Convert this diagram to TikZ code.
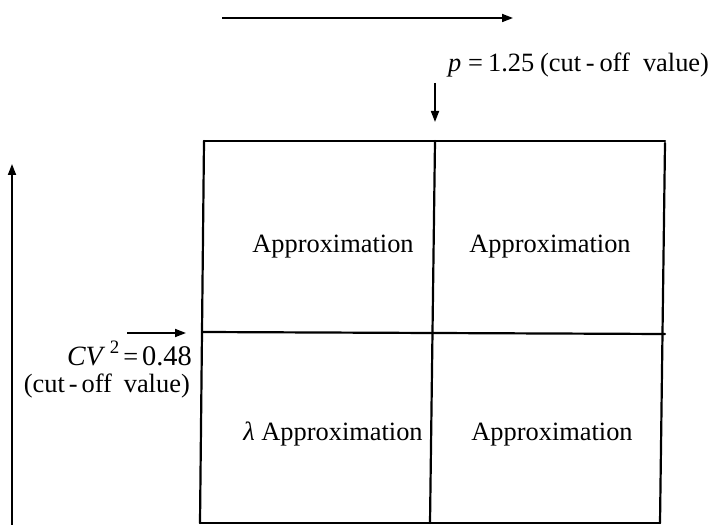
\documentclass[tikz,border=0pt]{standalone}
\usepackage{fontspec}
\setmainfont{Liberation Serif}
\usetikzlibrary{arrows.meta}
\begin{document}
\begin{tikzpicture}[x=1bp,y=-1bp,
  line/.style={line width=2.2bp, line cap=round},
  arr/.style={line width=1.7bp, -{Triangle[length=11bp,width=8bp]}},
  lbl/.style={inner sep=0pt, font=\fontsize{26.5}{30}\selectfont},
  cell/.style={inner sep=0pt, anchor=base, font=\fontsize{26.5}{30}\selectfont}]
\useasboundingbox (0,0) rectangle (709,525);
% grid corners
\coordinate (tl) at (204,141);
\coordinate (tr) at (665,141);
\coordinate (bl) at (200,523);
\coordinate (br) at (660,523);
\coordinate (mt) at (435,141);
\coordinate (mb) at (430,523);
\coordinate (ml) at (203,332);
\coordinate (mr) at (665,334);
\draw[line] (tl) -- (tr);
\draw[line] (bl) -- (br);
\draw[line] (tl) -- (bl);
\draw[line] (665,143) -- (br);
\draw[line] (mt) -- (mb);
\draw[line] (ml) -- (mr);
% cells
\node[cell] (c1) at (333,253) {Approximation};
\node[cell] (c2) at (550,253) {Approximation};
\node[cell] (c3) at (333,440) {\textit{λ} Approximation};
\node[cell] (c4) at (552,440) {Approximation};
% top axis arrow
\coordinate (ta1) at (222,18);
\coordinate (ta2) at (513,18);
\draw[arr] (ta1) -- (ta2);
% p label
\node[lbl, anchor=base west] (plbl) at (448,72) {\textit{p}\hspace{0.25em}=\hspace{0.2em}1.25\hspace{0.22em}(cut\hspace{0.18em}-\hspace{0.18em}off\hspace{0.5em}value)};
\coordinate (pd1) at (435,83);
\coordinate (pd2) at (435,122);
\draw[arr] (pd1) -- (pd2);
% left axis arrow
\coordinate (la1) at (12,525);
\coordinate (la2) at (12,164);
\draw[arr] (la1) -- (la2);
% CV label
\coordinate (ca1) at (127,333);
\coordinate (ca2) at (186,333);
\draw[arr] (ca1) -- (ca2);
\node[lbl, anchor=base east] (cvlbl) at (192,365) {{\fontsize{28}{30}\selectfont\textit{CV}}\,\raisebox{0.45em}{\fontsize{19}{20}\selectfont 2}\hspace{0.15em}=\hspace{0.15em}{\fontsize{28.5}{30}\selectfont 0.48}};
\node[lbl, anchor=base east] (colbl) at (190,392) {(cut\hspace{0.15em}-\hspace{0.15em}off\hspace{0.45em}value)};
\end{tikzpicture}
\end{document}
